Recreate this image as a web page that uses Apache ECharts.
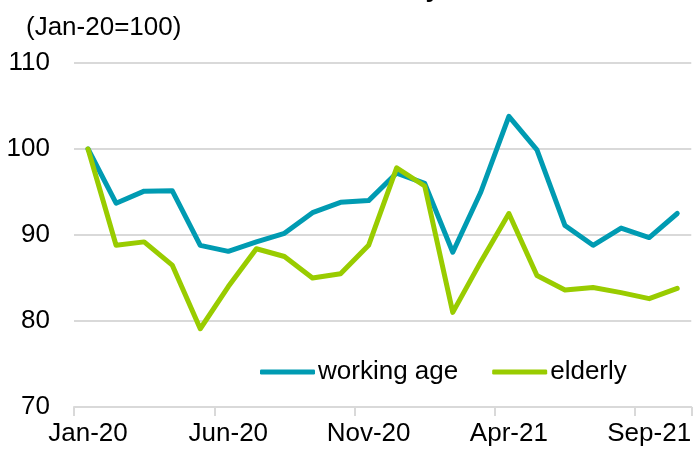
<!DOCTYPE html>
<html>
<head>
<meta charset="utf-8">
<script src="https://cdn.jsdelivr.net/npm/echarts@6/dist/echarts.min.js"></script>
<style>html,body{margin:0;padding:0;background:#fff;}#c{width:694px;height:452px;}</style>
</head>
<body>
<div id="c"></div>
<script>
const categories = ['Jan-20','Feb-20','Mar-20','Apr-20','May-20','Jun-20','Jul-20','Aug-20','Sep-20','Oct-20','Nov-20','Dec-20',
  'Jan-21','Feb-21','Mar-21','Apr-21','May-21','Jun-21','Jul-21','Aug-21','Sep-21','Oct-21'];
const workingAge = [100, 93.7, 95.1, 95.15, 88.8, 88.1, 89.2, 90.2, 92.6, 93.8, 94.0, 97.2,
  96.0, 88.0, 95.0, 103.8, 99.9, 91.1, 88.8, 90.8, 89.7, 92.5];
const elderly = [100, 88.8, 89.2, 86.5, 79.1, 84.0, 88.4, 87.5, 85.0, 85.5, 88.8, 97.8,
  95.7, 81.0, 86.9, 92.5, 85.3, 83.6, 83.9, 83.3, 82.6, 83.8];
const yTicks = [70, 80, 90, 100, 110];

const font = 'Arial, "Liberation Sans", sans-serif';
const chart = echarts.init(document.getElementById('c'), null, {renderer: 'canvas'});
chart.setOption({
  animation: false,
  backgroundColor: '#ffffff',
  title: [{
    text: 'Activity',
    right: 249,
    top: -28,
    textStyle: {fontFamily: font, fontSize: 26, fontWeight: 'bold', color: '#000', lineHeight: 26}
  }, {
    text: '(Jan-20=100)',
    left: 21,
    top: 10,
    textStyle: {fontFamily: font, fontSize: 26, fontWeight: 'normal', color: '#000', lineHeight: 26}
  }],
  legend: {
    left: 255,
    top: 354,
    itemWidth: 55,
    itemHeight: 5,
    itemGap: 34,
    icon: 'roundRect',
    textStyle: {fontFamily: font, fontSize: 26, color: '#000', padding: [0, 0, 0, -2]},
    data: ['working age', 'elderly']
  },
  grid: {left: 74, top: 63, width: 622, height: 344, containLabel: false},
  xAxis: {
    type: 'category',
    data: categories,
    boundaryGap: true,
    axisLine: {lineStyle: {color: '#d9d9d9', width: 2}},
    axisTick: {show: true, interval: 4, length: 9, lineStyle: {color: '#d9d9d9', width: 2}},
    axisLabel: {interval: 4, fontFamily: font, fontSize: 26, color: '#000', margin: 14},
    splitLine: {show: false}
  },
  yAxis: {
    type: 'value',
    min: yTicks[0],
    max: yTicks[yTicks.length - 1],
    interval: 10,
    axisLine: {show: false},
    axisTick: {show: false},
    axisLabel: {fontFamily: font, fontSize: 26, color: '#000', margin: 24, padding: [3, 0, 0, 0]},
    splitLine: {lineStyle: {color: '#d9d9d9', width: 2}}
  },
  series: [{
    name: 'working age',
    type: 'line',
    data: workingAge,
    symbol: 'none',
    color: '#009BB2',
    lineStyle: {width: 5, color: '#009BB2', cap: 'round', join: 'round'}
  }, {
    name: 'elderly',
    type: 'line',
    data: elderly,
    symbol: 'none',
    color: '#99CC00',
    lineStyle: {width: 5, color: '#99CC00', cap: 'round', join: 'round'}
  }]
});
</script>
</body>
</html>
